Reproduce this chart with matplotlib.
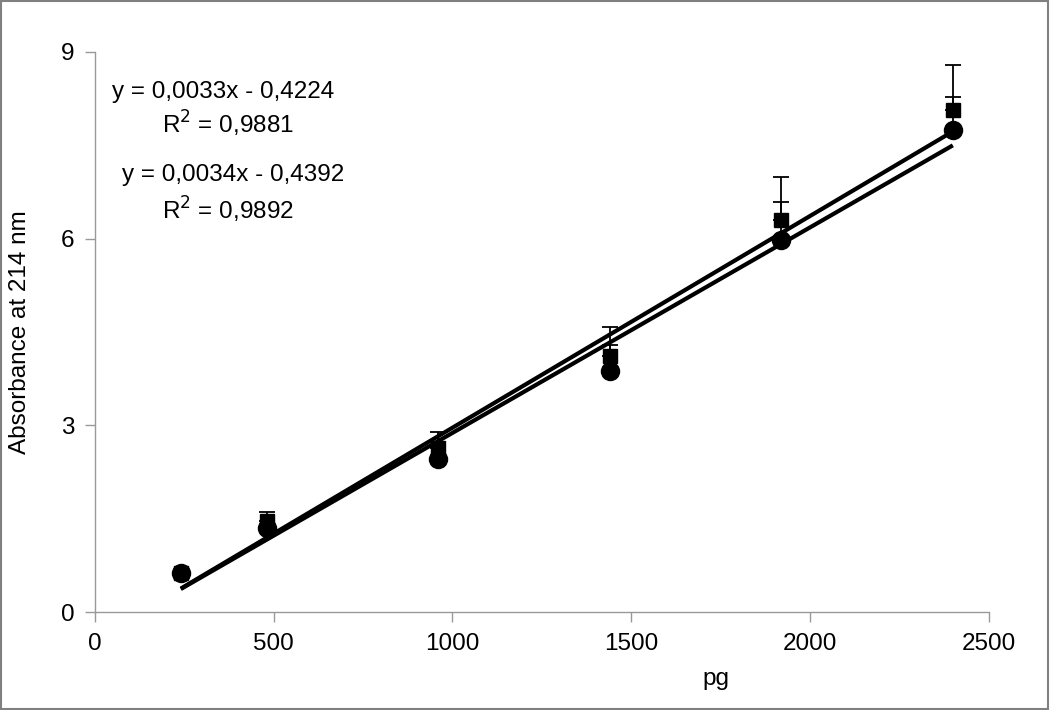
import numpy as np
import matplotlib
matplotlib.use('Agg')
import matplotlib.pyplot as plt
from matplotlib.patches import Rectangle

plt.rcParams['font.family'] = ['Liberation Sans', 'DejaVu Sans']

# data
pg = [240, 480, 960, 1440, 1920, 2400]
circles = [0.62, 1.35, 2.46, 3.88, 5.97, 7.75]
circle_err = [0.0, 0.0, 0.0, 0.41, 0.62, 0.53]
squares = [0.62, 1.47, 2.64, 4.12, 6.30, 8.07]
square_err = [0.0, 0.14, 0.25, 0.46, 0.69, 0.72]

fits = [(0.0034, -0.4392), (0.0033, -0.4224)]
eq_lines = ['y = 0,0033x - 0,4224', 'R$^2$ = 0,9881',
            'y = 0,0034x - 0,4392', 'R$^2$ = 0,9892']
eq_pos = [(0.143, 0.929), (0.149, 0.871), (0.155, 0.780), (0.149, 0.718)]

fig = plt.figure(figsize=(10.5, 7.1), dpi=100)
ax = fig.add_axes([0.0905, 0.138, 0.851, 0.789])

gray = '#999999'
fs = 17.5

# fitted lines
xfit = np.array([pg[0], pg[-1]])
for slope, icpt in fits:
    ax.plot(xfit, slope * xfit + icpt, color='black', lw=3, solid_capstyle='butt', zorder=2)

# plus-only error bars
ax.errorbar(pg, circles, yerr=[np.zeros(len(pg)), circle_err], fmt='none',
            ecolor='black', elinewidth=1.3, capsize=5.5, capthick=1.3, zorder=3)
ax.errorbar(pg, squares, yerr=[np.zeros(len(pg)), square_err], fmt='none',
            ecolor='black', elinewidth=1.3, capsize=5.5, capthick=1.3, zorder=3)
ax.plot(pg, squares, 's', color='black', ms=10, zorder=4)
ax.plot(pg, circles, 'o', color='black', ms=13, zorder=5)

ax.set_xlim(0, 2500)
ax.set_ylim(0, 9)
ax.set_xticks([0, 500, 1000, 1500, 2000, 2500])
ax.set_yticks([0, 3, 6, 9])
ax.tick_params(direction='out', length=7, width=1, color=gray, labelsize=fs, pad=8)
for side in ['top', 'right']:
    ax.spines[side].set_visible(False)
for side in ['left', 'bottom']:
    ax.spines[side].set_color(gray)
    ax.spines[side].set_linewidth(1)

ax.set_xlabel('pg', fontsize=fs)
ax.xaxis.set_label_coords(0.695, -0.1)
ax.set_ylabel('Absorbance at 214 nm', fontsize=fs)
ax.yaxis.set_label_coords(-0.072, 0.5)

for txt, (tx, ty) in zip(eq_lines, eq_pos):
    ax.text(tx, ty, txt, transform=ax.transAxes, fontsize=fs, ha='center', va='center')

# outer frame
fig.patches.append(Rectangle((0.001, 0.002), 0.997, 0.996, transform=fig.transFigure,
                             fill=False, edgecolor='#808080', lw=1.5))

fig.savefig('out.png', dpi=100)
